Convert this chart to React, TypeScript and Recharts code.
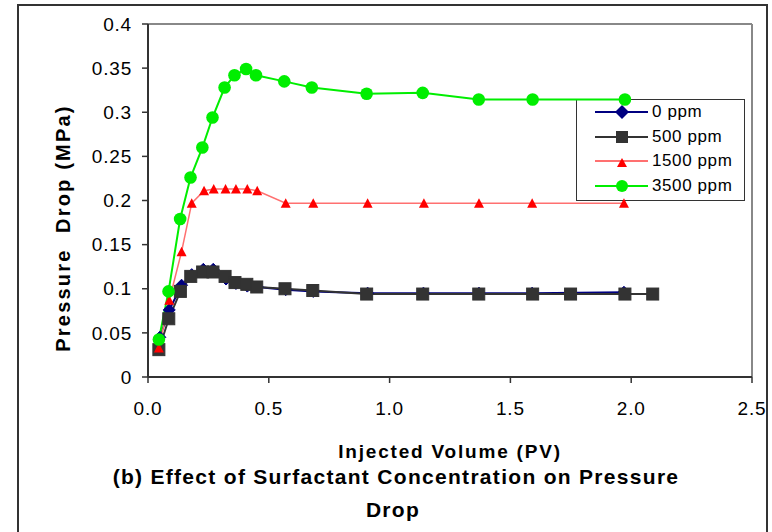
import React from "react";
import {
  LineChart,
  Line,
  XAxis,
  YAxis,
  ReferenceLine,
} from "recharts";

// injected volume (PV) and pressure drop (MPa) for each surfactant concentration
const PV_0 = [0.049, 0.088, 0.139, 0.181, 0.229, 0.27, 0.323, 0.364, 0.411, 0.452, 0.57, 0.684, 0.909, 1.14, 1.37, 1.59, 1.97];
const DP_0 = [0.045, 0.076, 0.104, 0.116, 0.122, 0.122, 0.111, 0.106, 0.103, 0.102, 0.099, 0.097, 0.095, 0.095, 0.095, 0.095, 0.096];

const PV_500 = [0.045, 0.086, 0.134, 0.177, 0.226, 0.269, 0.319, 0.36, 0.409, 0.45, 0.567, 0.682, 0.905, 1.137, 1.369, 1.592, 1.749, 1.974, 2.089];
const DP_500 = [0.031, 0.066, 0.097, 0.114, 0.119, 0.119, 0.114, 0.107, 0.105, 0.102, 0.1, 0.098, 0.094, 0.094, 0.094, 0.094, 0.094, 0.094, 0.094];

const PV_1500 = [0.045, 0.088, 0.139, 0.181, 0.232, 0.272, 0.321, 0.364, 0.411, 0.452, 0.57, 0.684, 0.909, 1.142, 1.37, 1.59, 1.97];
const DP_1500 = [0.033, 0.087, 0.142, 0.197, 0.211, 0.213, 0.213, 0.213, 0.213, 0.211, 0.197, 0.197, 0.197, 0.197, 0.197, 0.197, 0.197];

const PV_3500 = [0.045, 0.085, 0.133, 0.176, 0.225, 0.267, 0.317, 0.358, 0.406, 0.447, 0.564, 0.678, 0.905, 1.137, 1.369, 1.592, 1.974];
const DP_3500 = [0.0425, 0.097, 0.179, 0.226, 0.26, 0.294, 0.328, 0.342, 0.349, 0.342, 0.335, 0.328, 0.321, 0.322, 0.3145, 0.3145, 0.3145];

const X_TICKS = [0, 0.5, 1, 1.5, 2, 2.5];
const Y_TICKS = [0, 0.05, 0.1, 0.15, 0.2, 0.25, 0.3, 0.35, 0.4];

const toRows = (xs: number[], ys: number[]) => xs.map((x, i) => ({ x, y: ys[i] }));

const FONT = '"Liberation Sans", Arial, sans-serif';

type DotProps = { cx?: number; cy?: number; index?: number };

const diamond = (color: string) => (p: DotProps) => {
  if (p.cx == null || p.cy == null) return <g key={p.index} />;
  const { cx, cy } = p;
  const r = 6;
  return (
    <path
      key={p.index}
      d={`M${cx},${cy - r}L${cx + r},${cy}L${cx},${cy + r}L${cx - r},${cy}Z`}
      fill={color}
      stroke={color}
    />
  );
};

const square = (color: string) => (p: DotProps) => {
  if (p.cx == null || p.cy == null) return <g key={p.index} />;
  return <rect key={p.index} x={p.cx - 6} y={p.cy - 6} width={12} height={12} fill={color} stroke={color} />;
};

const triangle = (color: string) => (p: DotProps) => {
  if (p.cx == null || p.cy == null) return <g key={p.index} />;
  const { cx, cy } = p;
  return (
    <path key={p.index} d={`M${cx},${cy - 5}L${cx + 5},${cy + 4.5}L${cx - 5},${cy + 4.5}Z`} fill={color} />
  );
};

const SERIES = [
  { name: "0 ppm", line: "#000080", marker: "#000080", shape: "diamond" },
  { name: "500 ppm", line: "#333333", marker: "#333333", shape: "square" },
  { name: "1500 ppm", line: "#ff7070", marker: "#ff0000", shape: "triangle" },
  { name: "3500 ppm", line: "#00ee00", marker: "#00ee00", shape: "circle" },
];

function LegendIcon({ shape, color }: { shape: string; color: string }) {
  const cx = 46;
  const cy = 12;
  if (shape === "diamond") return <path d={`M${cx},${cy - 7}L${cx + 7},${cy}L${cx},${cy + 7}L${cx - 7},${cy}Z`} fill={color} />;
  if (shape === "square") return <rect x={cx - 6} y={cy - 6} width={12} height={12} fill={color} />;
  if (shape === "triangle") return <path d={`M${cx},${cy - 3}L${cx + 5},${cy + 6}L${cx - 5},${cy + 6}Z`} fill={color} />;
  return <circle cx={cx} cy={cy} r={6} fill={color} />;
}

const ROW_Y = [13, 37.5, 62, 87];

// sits under the chart svg so markers on the box edge stay on top, as in the source
function LegendBox() {
  return (
    <div
      style={{
        position: "absolute",
        left: 576,
        top: 99,
        width: 169,
        height: 102,
        border: "1px solid #333",
        background: "#fff",
        boxSizing: "border-box",
        fontFamily: FONT,
      }}
    >
      {SERIES.map((s, i) => (
        <div
          key={s.name}
          style={{ position: "absolute", left: -1, top: ROW_Y[i] - 13, height: 24, display: "flex", alignItems: "center" }}
        >
          <svg width={76} height={24} style={{ display: "block" }}>
            <line x1={19} x2={72} y1={12} y2={12} stroke={s.line} strokeWidth={2} />
            <LegendIcon shape={s.shape} color={s.marker} />
          </svg>
          <span style={{ fontSize: 17, letterSpacing: 0.6, color: "#000", lineHeight: "24px" }}>{s.name}</span>
        </div>
      ))}
    </div>
  );
}

const yLabel = () => (
  <text
    x={70}
    y={228}
    transform="rotate(-90 70 228)"
    textAnchor="middle"
    fontFamily={FONT}
    fontSize={20}
    fontWeight="bold"
    letterSpacing={2.2}
    fill="#000"
    style={{ whiteSpace: "pre" }}
  >
    {"Pressure  Drop (MPa)"}
  </text>
);

const xLabel = () => (
  <text
    x={450}
    y={458}
    textAnchor="middle"
    fontFamily={FONT}
    fontSize={19}
    fontWeight="bold"
    letterSpacing={1.8}
    fill="#000"
  >
    Injected Volume (PV)
  </text>
);

export default function App() {
  const tick = { fill: "#000", fontSize: 19, fontFamily: FONT, letterSpacing: 0.8 };
  return (
    <div style={{ position: "absolute", left: 0, top: 0, width: 772, height: 532, background: "#fff" }}>
      <div
        style={{
          position: "absolute",
          left: 17,
          top: 4,
          width: 751,
          height: 528,
          border: "2px solid #333",
          borderBottom: "none",
          boxSizing: "border-box",
        }}
      />
      <LegendBox />
      <div style={{ position: "absolute", left: 0, top: 0 }}>
        <LineChart width={772} height={532} margin={{ top: 24, right: 20, left: 0, bottom: 55 }}>
          <XAxis
            type="number"
            dataKey="x"
            domain={[0, 2.5]}
            ticks={X_TICKS}
            tickFormatter={(v: number) => v.toFixed(1)}
            height={100}
            tick={tick}
            tickSize={6}
            tickMargin={19}
            axisLine={{ stroke: "#333", strokeWidth: 2 }}
            tickLine={{ stroke: "#333", strokeWidth: 1.5 }}
            label={{ content: xLabel }}
          />
          <YAxis
            type="number"
            dataKey="y"
            domain={[0, 0.4]}
            ticks={Y_TICKS}
            width={148}
            tick={tick}
            tickSize={6}
            tickMargin={10}
            axisLine={{ stroke: "#333", strokeWidth: 2 }}
            tickLine={{ stroke: "#333", strokeWidth: 1.5 }}
            label={{ content: yLabel }}
          />
          <ReferenceLine y={0.4} stroke="#888" strokeWidth={2} />
          <ReferenceLine x={2.5} stroke="#888" strokeWidth={2} />
          <Line
            data={toRows(PV_0, DP_0)}
            dataKey="y"
            name="0 ppm"
            stroke="#000080"
            strokeWidth={2}
            dot={diamond("#000080")}
            isAnimationActive={false}
          />
          <Line
            data={toRows(PV_500, DP_500)}
            dataKey="y"
            name="500 ppm"
            stroke="#333333"
            strokeWidth={2}
            dot={square("#333333")}
            isAnimationActive={false}
          />
          <Line
            data={toRows(PV_1500, DP_1500)}
            dataKey="y"
            name="1500 ppm"
            stroke="#ff7070"
            strokeWidth={1.5}
            dot={triangle("#ff0000")}
            isAnimationActive={false}
          />
          <Line
            data={toRows(PV_3500, DP_3500)}
            dataKey="y"
            name="3500 ppm"
            stroke="#00ee00"
            strokeWidth={2}
            dot={{ r: 6.3, fill: "#00ee00", stroke: "#00ee00", strokeWidth: 0 }}
            isAnimationActive={false}
          />
        </LineChart>
      </div>
      <svg width={772} height={532} style={{ position: "absolute", left: 0, top: 0, pointerEvents: "none" }}>
        <text x={396} y={484} textAnchor="middle" fontFamily={FONT} fontSize={21} fontWeight="bold" letterSpacing={1.3}>
          (b) Effect of Surfactant Concentration on Pressure
        </text>
        <text x={393} y={516.5} textAnchor="middle" fontFamily={FONT} fontSize={21} fontWeight="bold" letterSpacing={1.3}>
          Drop
        </text>
      </svg>
    </div>
  );
}
